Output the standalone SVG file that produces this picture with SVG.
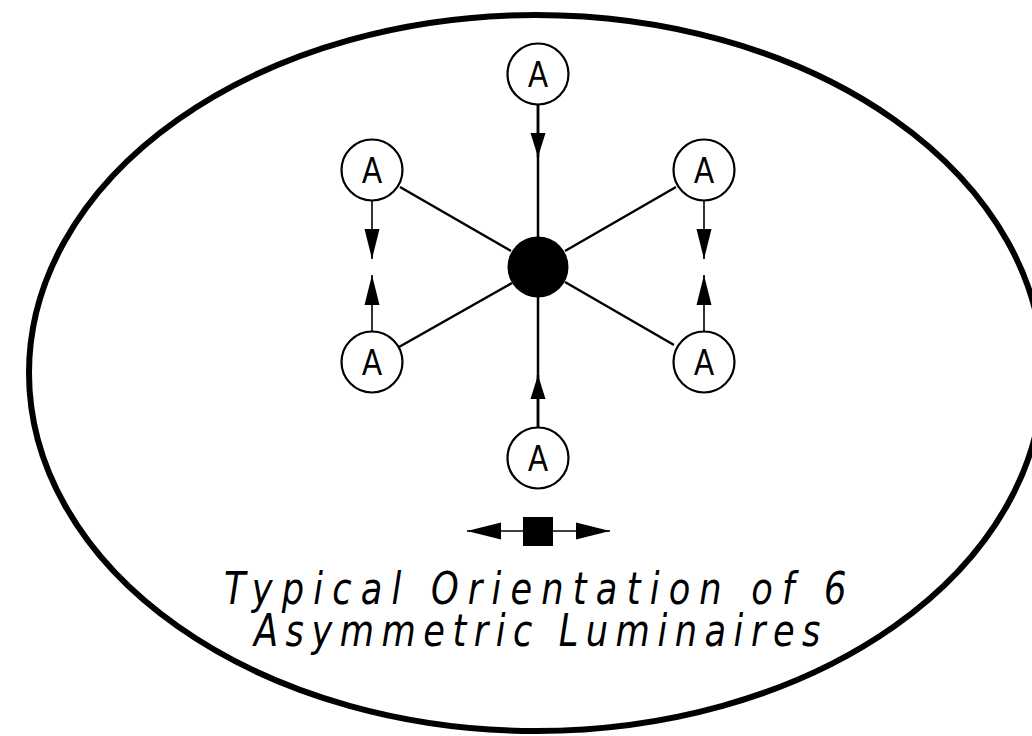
<svg xmlns="http://www.w3.org/2000/svg" width="1032" height="736" viewBox="0 0 1032 736">
<style>
.n{fill:#fff;stroke:#000;stroke-width:2.2}
.a{font-family:"Liberation Sans",Arial,sans-serif;font-size:37px;fill:#000;text-anchor:middle}
.l{stroke:#000;stroke-width:2.5;fill:none}
.t{stroke:#000;stroke-width:1.6;fill:none}
.c{font-family:"DejaVu Sans",sans-serif;font-weight:200;font-style:oblique;font-size:44px;fill:#000}
</style>
<defs>
<marker id="h1" markerUnits="userSpaceOnUse" markerWidth="24" markerHeight="16" refX="24" refY="8" orient="auto"><path d="M0 0.5L24 8L0 15.5Z"/></marker>
<marker id="h2" markerUnits="userSpaceOnUse" markerWidth="30" markerHeight="16" refX="30" refY="8" orient="auto"><path d="M0 0.5L30 8L0 15.5Z"/></marker>
<marker id="h3" markerUnits="userSpaceOnUse" markerWidth="34" markerHeight="18" refX="34" refY="9" orient="auto"><path d="M0 0.5L34 9L0 17.5Z"/></marker>
</defs>
<rect width="1032" height="736" fill="#fff"/>
<ellipse id="boundary" cx="536" cy="373" rx="507" ry="358" fill="none" stroke="#000" stroke-width="6"/>
<g id="connectors">
<path class="l" d="M538 105V237M538 297V427M400 187L511 251M676 187L565 251M399 347L512 283M674 345L565 282"/>
<path class="l" d="M538 105V157" marker-end="url(#h1)"/>
<path class="l" d="M538 427V375" marker-end="url(#h1)"/>
<path class="t" d="M372 201V259" marker-end="url(#h2)"/>
<path class="t" d="M372 332V275" marker-end="url(#h2)"/>
<path class="t" d="M704 201V259" marker-end="url(#h2)"/>
<path class="t" d="M704 332V275" marker-end="url(#h2)"/>
<path class="t" d="M524 531H467" marker-end="url(#h3)"/>
<path class="t" d="M552 531H610" marker-end="url(#h3)"/>
</g>
<g id="hub"><circle cx="538" cy="267" r="30.5" fill="#000"/></g>
<g id="a-top"><circle class="n" cx="538" cy="74" r="30.5"/><text class="a" x="538" y="87" textLength="20" lengthAdjust="spacingAndGlyphs">A</text></g>
<g id="a-upper-left"><circle class="n" cx="372" cy="170" r="30.5"/><text class="a" x="372" y="183" textLength="20" lengthAdjust="spacingAndGlyphs">A</text></g>
<g id="a-upper-right"><circle class="n" cx="704" cy="170" r="30.5"/><text class="a" x="704" y="183" textLength="20" lengthAdjust="spacingAndGlyphs">A</text></g>
<g id="a-lower-left"><circle class="n" cx="372" cy="362" r="30.5"/><text class="a" x="372" y="375" textLength="20" lengthAdjust="spacingAndGlyphs">A</text></g>
<g id="a-lower-right"><circle class="n" cx="704" cy="362" r="30.5"/><text class="a" x="704" y="375" textLength="20" lengthAdjust="spacingAndGlyphs">A</text></g>
<g id="a-bottom"><circle class="n" cx="538" cy="458" r="30.5"/><text class="a" x="538" y="471" textLength="20" lengthAdjust="spacingAndGlyphs">A</text></g>
<g id="symbol"><rect x="523" y="517" width="30" height="29" fill="#000"/></g>
<text class="c" transform="translate(224 604) scale(.8 1)" textLength="778" lengthAdjust="spacing">Typical Orientation of 6</text>
<text class="c" transform="translate(254 646) scale(.8 1)" textLength="708" lengthAdjust="spacing">Asymmetric Luminaires</text>
</svg>
